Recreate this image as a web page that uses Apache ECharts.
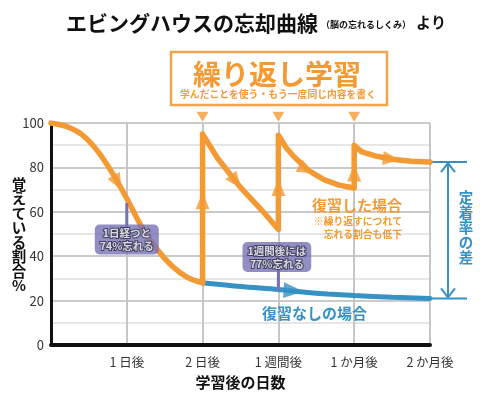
<!DOCTYPE html>
<html>
<head>
<meta charset="utf-8">
<script src="https://cdn.jsdelivr.net/npm/echarts@6/dist/echarts.min.js"></script>
<style>
  html, body { margin: 0; padding: 0; background: #fff; }
  #chart { width: 500px; height: 399px; }
</style>
</head>
<body>
<div id="chart"></div>
<script>
// エビングハウスの忘却曲線
var xLabels = ['', '1 日後', '2 日後', '1 週間後', '1 か月後', '2 か月後'];
var yTicks = [0, 20, 40, 60, 80, 100];

// 復習しない場合（学習直後〜2日後）
var forgetX = [0, 0.2, 0.4, 0.6, 0.8, 1.0, 1.2, 1.4, 1.6, 1.8, 2.0];
var forgetY = [100, 98.5, 95, 88, 78, 66, 53, 43, 35.5, 30.5, 28];

// 2日後以降の復習なし
var noReviewX = [2, 2.5, 3, 3.35, 3.65, 4, 4.5, 5];
var noReviewY = [28, 26.3, 25, 23.8, 23, 22.3, 21.5, 21];

// 復習した場合（縦の跳ね上がりを含む）
var reviewX = [2, 2, 2.2, 2.5, 2.8, 3, 3, 3.1, 3.2, 3.4, 3.6, 3.8, 4, 4, 4.1, 4.3, 4.5, 4.75, 5];
var reviewY = [28, 95, 84, 71, 60, 52, 94.5, 89, 85, 78.5, 74.5, 72, 70.7, 90, 87, 85, 83.7, 82.8, 82.4];

// 矢印 [x, y, 回転]
var orangeArrows = [[0.88, 73, -151], [2, 65, 0], [2.44, 73.5, -143], [3, 71, 0], [3.37, 79, -118], [4, 77.5, 0], [4.49, 83.8, -97]];
var blueArrows = [[3.2, 24.4, -94]];
var reviewMarks = [2, 3, 4];

// 吹き出し
var calloutX = [1, 2.98];
var calloutY = [47.5, 39.6];
var calloutText = ['1日経つと\n74%忘れる', '1週間後には\n77%忘れる'];
var stemTop = [64, 38];
var stemBottom = [49, 24.6];

var orange = '#F39A34';
var blue = '#3592C4';
var purple = '#7472B4';
var font = "'Noto Sans CJK JP', sans-serif";

function zip(xs, ys) {
  return xs.map(function(x, i) { return [x, ys[i]]; });
}

var chart = echarts.init(document.getElementById('chart'), null, { renderer: 'canvas' });

chart.setOption({
  animation: false,
  grid: { left: 51, right: 70, top: 123, bottom: 54 },
  xAxis: {
    type: 'value',
    min: 0,
    max: 5,
    interval: 1,
    axisLine: { show: true, lineStyle: { color: '#111', width: 4 } },
    axisTick: { show: false },
    axisLabel: {
      color: '#333', fontSize: 12.5, fontFamily: font, margin: 11,
      formatter: function(v) { return xLabels[Math.round(v)] || ''; }
    },
    splitLine: { show: true, lineStyle: { color: '#c6c6c6', width: 2 } },
    name: '学習後の日数',
    nameLocation: 'middle',
    nameGap: 30,
    nameTextStyle: { color: '#111', fontSize: 15, fontWeight: 'bold', fontFamily: font }
  },
  yAxis: {
    type: 'value',
    min: 0,
    max: 100,
    interval: 20,
    axisLine: { show: true, lineStyle: { color: '#111', width: 3 } },
    axisTick: { show: false },
    axisLabel: {
      color: '#333', fontSize: 13, fontFamily: font, margin: 7,
      formatter: function(v) { return yTicks.indexOf(v) >= 0 ? String(v) : ''; }
    },
    splitLine: { lineStyle: { color: '#b8b8b8', width: 1.5 } },
    minorTick: { show: false, splitNumber: 2 },
    minorSplitLine: { show: true, lineStyle: { color: '#dedede', width: 1.5 } }
  },
  series: [
    {
      type: 'line', data: zip(noReviewX, noReviewY), smooth: 0.3, symbol: 'none',
      lineStyle: { color: blue, width: 5, cap: 'round' }, z: 3
    },
    {
      type: 'line', data: zip(forgetX, forgetY), smooth: 0.3, symbol: 'none',
      lineStyle: { color: orange, width: 5.5, cap: 'round', join: 'round' }, z: 4
    },
    {
      type: 'line', data: zip(reviewX, reviewY), smooth: false, symbol: 'none',
      lineStyle: { color: orange, width: 5.5, cap: 'round', join: 'round' }, z: 4
    },
    {
      type: 'scatter', symbol: 'triangle', symbolSize: [14, 17], z: 5,
      itemStyle: { color: orange },
      data: orangeArrows.map(function(a) { return { value: [a[0], a[1]], symbolRotate: a[2] }; })
    },
    {
      type: 'scatter', symbol: 'triangle', symbolSize: [16, 20], z: 5,
      itemStyle: { color: blue },
      data: blueArrows.map(function(a) { return { value: [a[0], a[1]], symbolRotate: a[2] }; })
    },
    {
      type: 'scatter', symbol: 'triangle', symbolSize: [12, 10], symbolRotate: 180, clip: false, z: 5,
      itemStyle: { color: orange },
      data: reviewMarks.map(function(x) { return [x, 102.8]; })
    },
    {
      type: 'line', symbol: 'none', z: 6,
      lineStyle: { color: purple, width: 3 },
      data: [[calloutX[0], stemTop[0]], [calloutX[0], stemBottom[0]]]
    },
    {
      type: 'line', symbol: 'none', z: 6,
      lineStyle: { color: purple, width: 3 },
      data: [[3, stemTop[1]], [3, stemBottom[1]]]
    },
    {
      type: 'scatter', symbolSize: 1, z: 7,
      itemStyle: { color: purple },
      label: {
        show: true, position: 'inside', formatter: '{b}',
        backgroundColor: purple, borderRadius: 5, padding: [2, 5],
        color: '#fff', fontSize: 10.5, fontWeight: 'bold', fontFamily: font, lineHeight: 13,
        textBorderColor: '#2e2e4a', textBorderWidth: 2, align: 'center'
      },
      data: calloutX.map(function(x, i) { return { name: calloutText[i], value: [x, calloutY[i]] }; })
    }
  ]
});

// 定着率の差 ブラケット（最終値の位置から）
var pTop = chart.convertToPixel({ gridIndex: 0 }, [5, reviewY[reviewY.length - 1]]);
var pBot = chart.convertToPixel({ gridIndex: 0 }, [5, noReviewY[noReviewY.length - 1]]);
var bx = 448;

chart.setOption({
  graphic: [
    { type: 'text', left: 66, top: 13, style: { text: 'エビングハウスの忘却曲線', fill: '#111', font: 'bold 21px ' + font } },
    { type: 'text', left: 321, top: 20, style: { text: '（脳の忘れるしくみ）', fill: '#111', font: 'bold 9px ' + font } },
    { type: 'text', left: 416, top: 15, style: { text: 'より', fill: '#111', font: 'bold 15px ' + font } },
    { type: 'rect', shape: { x: 171, y: 52, width: 216, height: 53 }, style: { fill: '#fff', stroke: '#F2A54B', lineWidth: 2.5 } },
    { type: 'text', x: 277, y: 74, style: { text: '繰り返し学習', fill: orange, font: 'bold 28px ' + font, textAlign: 'center', textVerticalAlign: 'middle' } },
    { type: 'text', x: 278, y: 94, style: { text: '学んだことを使う・もう一度同じ内容を書く', fill: orange, font: 'bold 9.8px ' + font, textAlign: 'center', textVerticalAlign: 'middle' } },
    { type: 'text', x: 19, y: 235, style: { text: '覚\nえ\nて\nい\nる\n割\n合\n%', fill: '#111', font: 'bold 14.5px ' + font, lineHeight: 14.5, textAlign: 'center', textVerticalAlign: 'middle' } },
    { type: 'text', x: 312, y: 205, style: { text: '復習した場合', fill: orange, font: 'bold 15px ' + font, textVerticalAlign: 'middle' } },
    { type: 'text', x: 402, y: 221, style: { text: '※繰り返すにつれて', fill: orange, font: 'bold 9.8px ' + font, textAlign: 'right', textVerticalAlign: 'middle' } },
    { type: 'text', x: 402, y: 234, style: { text: '忘れる割合も低下', fill: orange, font: 'bold 9.8px ' + font, textAlign: 'right', textVerticalAlign: 'middle' } },
    { type: 'text', x: 262, y: 313, style: { text: '復習なしの場合', fill: blue, font: 'bold 15px ' + font, textVerticalAlign: 'middle' } },
    { type: 'text', x: 466, y: 227, style: { text: '定\n着\n率\nの\n差', fill: blue, font: 'bold 14.5px ' + font, lineHeight: 15, textAlign: 'center', textVerticalAlign: 'middle' } },
    { type: 'line', shape: { x1: pTop[0], y1: pTop[1], x2: 467, y2: pTop[1] }, style: { stroke: blue, lineWidth: 2 } },
    { type: 'line', shape: { x1: pBot[0], y1: pBot[1], x2: 467, y2: pBot[1] }, style: { stroke: blue, lineWidth: 2 } },
    { type: 'line', shape: { x1: bx, y1: pTop[1] + 1, x2: bx, y2: pBot[1] - 1 }, style: { stroke: blue, lineWidth: 2 } },
    { type: 'polyline', shape: { points: [[bx - 7, pTop[1] + 10], [bx, pTop[1] + 1], [bx + 7, pTop[1] + 10]] }, style: { stroke: blue, lineWidth: 2, fill: null } },
    { type: 'polyline', shape: { points: [[bx - 7, pBot[1] - 10], [bx, pBot[1] - 1], [bx + 7, pBot[1] - 10]] }, style: { stroke: blue, lineWidth: 2, fill: null } }
  ]
});

window.addEventListener('resize', function() { chart.resize(); });
</script>
</body>
</html>
